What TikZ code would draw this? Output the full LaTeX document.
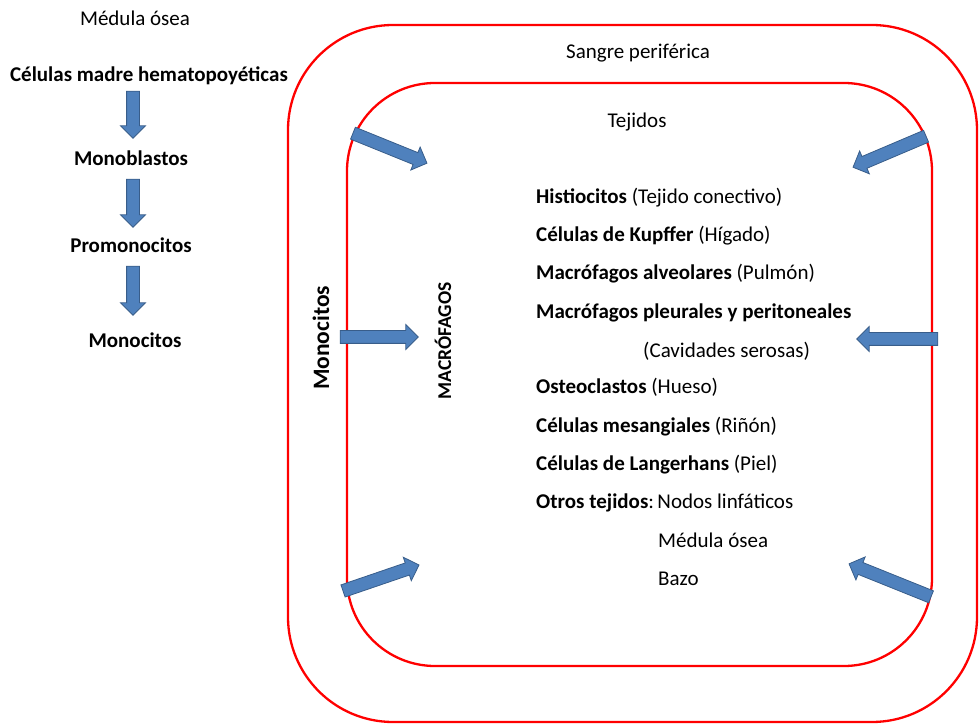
\documentclass[tikz,border=0pt]{standalone}
\usepackage{fontspec}
\setmainfont{Carlito}
\usetikzlibrary{shapes.arrows, calc, positioning}

\definecolor{arrowfill}{HTML}{4F81BD}
\definecolor{arrowline}{HTML}{385D8A}

\tikzset{
  blockarrow/.style={single arrow, draw=arrowline, fill=arrowfill, line width=0.8pt,
    inner xsep=0pt, inner ysep=6pt, single arrow head extend=6pt,
    single arrow head indent=0pt},
  ring/.style={draw=red, line width=2.3pt},
  lbl/.style={font=\fontsize{21}{25}\selectfont, inner sep=1pt},
  blbl/.style={lbl, font=\fontsize{21}{25}\selectfont\bfseries},
  cell/.style={lbl, anchor=base west},
}

% block arrow from #1 to #2
\newcommand{\blockarr}[2]{%
  \path let \p1=($(#2)-(#1)$), \n1={veclen(\x1,\y1)} in
    (#1) -- (#2) node[midway, sloped, allow upside down, blockarrow, minimum height=\n1] {};}

\begin{document}
\begin{tikzpicture}[x=1pt, y=-1pt]
\useasboundingbox (0,0) rectangle (980,727);

% rings
\draw[ring, rounded corners=105pt] (288,25) rectangle (977,722);
\draw[ring, rounded corners=88pt] (347,83) rectangle (932,666);

\node[lbl] (sangre) at (638,53) {Sangre periférica};
\node[lbl] (tejidos) at (637,122) {Tejidos};

% bone marrow chain
\node[lbl] (medula) at (135,18) {Médula ósea};
\node[blbl] (cmh) at (149,76) {Células madre hematopoyéticas};
\node[blbl] (mbl) at (131,158) {Monoblastos};
\node[blbl] (pmo) at (131,245) {Promonocitos};
\node[blbl] (mon) at (135,340) {Monocitos};

\coordinate (c1a) at (133,88);  \coordinate (c1b) at (133,135);
\coordinate (c2a) at (133,176); \coordinate (c2b) at (133,224);
\coordinate (c3a) at (133,263); \coordinate (c3b) at (133,312);
\blockarr{c1a}{c1b}
\blockarr{c2a}{c2b}
\blockarr{c3a}{c3b}

% rotated labels
\node[lbl, font=\fontsize{23.5}{28}\selectfont\bfseries, rotate=90] (monv) at (321,338) {Monocitos};
\node[lbl, font=\fontsize{19.5}{23}\selectfont\bfseries, rotate=90] (macro) at (443,341) {MACRÓFAGOS};

% arrows into tissues
\coordinate (tl0) at (350,132); \coordinate (tl1) at (424,162);
\coordinate (tr0) at (929,135); \coordinate (tr1) at (856,166);
\coordinate (ml0) at (337,337); \coordinate (ml1) at (415,337);
\coordinate (mr0) at (941,339); \coordinate (mr1) at (860,339);
\coordinate (bl0) at (340,592); \coordinate (bl1) at (416,566);
\coordinate (br0) at (934,598); \coordinate (br1) at (852,565);
\blockarr{tl0}{tl1}
\blockarr{tr0}{tr1}
\blockarr{ml0}{ml1}
\blockarr{mr0}{mr1}
\blockarr{bl0}{bl1}
\blockarr{br0}{br1}

% macrophage types
\node[cell] (h1) at (535,204) {\textbf{Histiocitos} (Tejido conectivo)};
\node[cell] (h2) at (535,242) {\textbf{Células de Kupffer} (Hígado)};
\node[cell] (h3) at (535,280) {\textbf{Macrófagos alveolares} (Pulmón)};
\node[cell] (h4) at (535,319) {\textbf{Macrófagos pleurales y peritoneales}};
\node[cell] (h5) at (642,357) {(Cavidades serosas)};
\node[cell] (h6) at (535,393) {\textbf{Osteoclastos} (Hueso)};
\node[cell] (h7) at (535,432) {\textbf{Células mesangiales} (Riñón)};
\node[cell] (h8) at (535,470) {\textbf{Células de Langerhans} (Piel)};
\node[cell] (h9) at (535,508) {\textbf{Otros tejidos}:\,Nodos linfáticos};
\node[cell] (h10) at (657,547) {Médula ósea};
\node[cell] (h11) at (657,585) {Bazo};
\end{tikzpicture}
\end{document}
